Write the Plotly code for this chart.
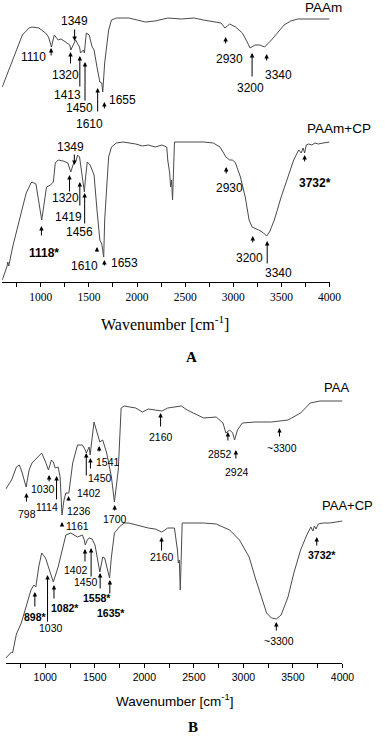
import plotly.graph_objects as go

# ---------------- Panel A data (wavenumber, transmittance a.u.) ----------------
paam_wn = [600, 678, 748, 809, 879, 909, 980, 1050, 1081, 1111, 1141, 1181, 1211, 1252, 1302, 1312,
           1352, 1362, 1403, 1413, 1443, 1453, 1473, 1503, 1534, 1554, 1584, 1604, 1614, 1634, 1644,
           1664, 1705, 1735, 1785, 1916, 2087, 2188, 2319, 2460, 2590, 2691, 2822, 2872, 2913, 2963,
           3023, 3094, 3144, 3174, 3225, 3275, 3325, 3396, 3466, 3527, 3597, 3668, 3829, 4000]
paam_t = [195, 215, 232, 247, 254, 255, 254, 249, 245, 235, 247, 242, 243, 240, 237, 232,
          240, 242, 235, 229, 232, 229, 249, 247, 235, 232, 215, 202, 200, 199, 190,
          219, 252, 262, 264, 264, 260, 261, 264, 263, 264, 262, 260, 259, 254, 258,
          255, 249, 240, 234, 237, 237, 235, 242, 250, 257, 261, 263, 263, 263]

paamcp_wn = [600, 648, 658, 668, 708, 779, 849, 899, 909, 950, 970, 1000, 1010, 1030, 1060, 1101,
             1131, 1151, 1181, 1232, 1282, 1312, 1342, 1362, 1383, 1403, 1423, 1443, 1453, 1463,
             1483, 1513, 1554, 1584, 1604, 1614, 1634, 1654, 1664, 1685, 1705, 1735, 1785, 1856,
             1916, 1987, 2057, 2117, 2188, 2258, 2309, 2319, 2339, 2349, 2359, 2369, 2389, 2460,
             2590, 2691, 2792, 2862, 2893, 2923, 2963, 2993, 3023, 3074, 3124, 3164, 3195, 3225,
             3265, 3315, 3346, 3376, 3426, 3497, 3567, 3627, 3668, 3681, 3705, 3725, 3741, 3758,
             3782, 3816, 3849, 3882, 3933, 4000]
paamcp_t = [2, 15, 20, 16, 35, 62, 89, 99, 100, 98, 85, 65, 62, 75, 95, 97,
            100, 119, 122, 121, 119, 110, 119, 120, 127, 125, 112, 95, 90, 102,
            120, 117, 107, 72, 49, 42, 38, 25, 62, 95, 125, 135, 139, 140,
            139, 138, 136, 137, 135, 137, 135, 122, 109, 95, 102, 82, 140, 140,
            140, 140, 139, 135, 130, 125, 122, 122, 119, 105, 85, 62, 55, 54,
            52, 49, 46, 50, 62, 85, 105, 122, 130, 132, 129, 134, 129, 137,
            138, 137, 139, 138, 139, 140]

# ---------------- Panel B data ----------------
paa_wn = [602, 660, 709, 739, 768, 807, 837, 866, 915, 964, 1003, 1032, 1062, 1081, 1101, 1130,
          1150, 1169, 1189, 1208, 1238, 1277, 1326, 1375, 1404, 1414, 1443, 1453, 1492, 1522,
          1551, 1580, 1590, 1620, 1668, 1698, 1737, 1766, 1796, 1844, 1913, 1981, 2040, 2108,
          2177, 2236, 2304, 2373, 2432, 2500, 2598, 2725, 2794, 2823, 2862, 2892, 2911, 2940,
          2989, 3117, 3283, 3450, 3577, 3675, 3773, 4000]
paa_t = [174, 183, 196, 198, 190, 176, 193, 200, 205, 210, 201, 193, 203, 201, 195, 196,
         186, 148, 163, 170, 170, 200, 218, 218, 213, 210, 216, 208, 241, 230,
         221, 223, 220, 210, 186, 161, 193, 255, 257, 256, 255, 251, 254, 253,
         252, 255, 256, 257, 253, 250, 245, 246, 240, 230, 233, 230, 223, 233,
         240, 241, 241, 243, 250, 260, 262, 262]

paacp_wn = [602, 660, 670, 690, 709, 758, 807, 856, 885, 905, 934, 964, 1003, 1032, 1071, 1081,
            1130, 1179, 1208, 1257, 1326, 1375, 1394, 1404, 1424, 1443, 1473, 1502, 1541, 1551,
            1580, 1600, 1629, 1649, 1668, 1698, 1747, 1796, 1844, 1913, 1981, 2040, 2108, 2177,
            2236, 2304, 2334, 2343, 2353, 2363, 2382, 2500, 2598, 2725, 2862, 2960, 3058, 3117,
            3185, 3234, 3283, 3332, 3381, 3450, 3509, 3577, 3640, 3658, 3681, 3701, 3717, 3733,
            3756, 3805, 3870, 3935, 4000]
paacp_t = [5, 11, 10, 20, 29, 40, 56, 73, 78, 76, 96, 110, 105, 96, 83, 81,
           96, 116, 128, 130, 126, 128, 123, 118, 123, 125, 124, 118, 96, 91,
           106, 105, 93, 85, 106, 130, 136, 140, 140, 138, 136, 135, 134, 131,
           135, 135, 113, 100, 103, 73, 140, 140, 140, 139, 133, 123, 106, 86,
           66, 50, 45, 44, 48, 66, 90, 113, 128, 131, 136, 132, 137, 134,
           139, 140, 140, 141, 142]

# peak labels: text, arrow wavenumber, arrow tip, arrow tail, text x, text y, bold
labels_A = [
    ("1349", 1352, 241, 254, 1352, 261, False),
    ("1110", 1108, 234, 225, 920, 225, False),
    ("1320", 1309, 230, 217, 1252, 207, False),
    ("1413", 1406, 226, 194, 1282, 187, False),
    ("1450", 1460, 220, 180, 1403, 174, False),
    ("1610", 1591, 194, 169, 1503, 158, False),
    ("1655", 1661, 180, 172, 1853, 182, False),
    ("2930", 2920, 245, 237, 2963, 223, False),
    ("3200", 3195, 229, 204, 3174, 194, False),
    ("3340", 3346, 228, 220, 3466, 207, False),
    ("1349", 1349, 117, 129, 1312, 135, False),
    ("1320", 1299, 107, 89, 1252, 84, False),
    ("1419", 1406, 100, 75, 1292, 65, False),
    ("1456", 1456, 89, 57, 1403, 50, False),
    ("1610", 1584, 35, 29, 1453, 16, False),
    ("1653", 1661, 22, 15, 1874, 19, False),
    ("1118*", 1007, 56, 45, 1030, 29, True),
    ("2930", 2926, 115, 107, 2963, 94, False),
    ("3732*", 3741, 127, 119, 3849, 99, True),
    ("3200", 3202, 46, 38, 3164, 24, False),
    ("3340", 3352, 41, 17, 3466, 9, False),
]
labels_B = [
    ("2160", 2164, 250, 235, 2167, 226, False),
    ("798", 810, 170, 160, 817, 149, False),
    ("1030", 1039, 188, 180, 974, 174, False),
    ("1114", 1114, 187, 162, 1013, 156, False),
    ("1161", 1169, 141, 136, 1321, 137, False),
    ("1236", 1235, 167, 161, 1336, 152, False),
    ("1402", 1414, 210, 186, 1443, 170, False),
    ("1450", 1456, 205, 193, 1551, 185, False),
    ("1541", 1544, 217, 210, 1629, 201, False),
    ("1700", 1701, 158, 151, 1708, 144, False),
    ("2852", 2843, 231, 221, 2761, 209, False),
    ("2924", 2924, 213, 203, 2934, 191, False),
    ("~3300", 3364, 235, 225, 3391, 215, False),
    ("2160", 2174, 126, 111, 2177, 106, False),
    ("1402", 1401, 114, 100, 1306, 93, False),
    ("1450", 1463, 115, 85, 1414, 81, False),
    ("1558*", 1554, 90, 73, 1522, 65, True),
    ("1635*", 1652, 83, 68, 1668, 50, True),
    ("898*", 895, 71, 55, 900, 46, True),
    ("1030", 1023, 88, 40, 1062, 35, False),
    ("1082*", 1088, 78, 63, 1198, 55, True),
    ("3732*", 3740, 126, 116, 3792, 108, True),
    ("~3300", 3332, 41, 31, 3362, 22, False),
]

series_labels = [
    ("PAAm", 0.906, "y", 275, 13.5),
    ("PAAm+CP", 0.982, "y", 154, 13.5),
    ("PAA", 0.923, "y2", 276, 13),
    ("PAA+CP", 0.986, "y2", 158, 13),
]

tick_vals = [1000, 1500, 2000, 2500, 3000, 3500, 4000]

W, H = 392, 737
SANS = "Liberation Sans, Arial, sans-serif"
SERIF = "Liberation Serif, Times New Roman, serif"
LINE = "#4a4a4a"

fig = go.Figure()
for wn, t, xa, ya in [(paam_wn, paam_t, "x", "y"), (paamcp_wn, paamcp_t, "x", "y"),
                      (paa_wn, paa_t, "x2", "y2"), (paacp_wn, paacp_t, "x2", "y2")]:
    fig.add_trace(go.Scatter(x=wn, y=t, mode="lines", xaxis=xa, yaxis=ya,
                             line=dict(color=LINE, width=1), showlegend=False,
                             hoverinfo="skip"))

anns = []
def add_labels(labels, xr, yr, size):
    for txt, awn, tip, tail, twn, tv, bold in labels:
        anns.append(dict(x=awn, y=tip, ax=awn, ay=tail, xref=xr, yref=yr, axref=xr, ayref=yr,
                         text="", showarrow=True, arrowhead=2, arrowsize=0.9, arrowwidth=1,
                         arrowcolor="black", standoff=0, startstandoff=0))
        anns.append(dict(x=twn, y=tv, xref=xr, yref=yr, showarrow=False,
                         text=f"<b>{txt}</b>" if bold else txt,
                         font=dict(family=SANS, size=size, color="black"),
                         xanchor="center", yanchor="middle"))

add_labels(labels_A, "x", "y", 12)
add_labels(labels_B, "x2", "y2", 10.5)

for txt, px, yr, v, size in series_labels:
    anns.append(dict(x=px, y=v, xref="paper", yref=yr, showarrow=False, text=txt,
                     font=dict(family=SANS, size=size, color="black"),
                     xanchor="right", yanchor="middle"))

# axis titles and panel letters
anns.append(dict(x=170 / W, y=1 - 323 / H, xref="paper", yref="paper", showarrow=False,
                 text="Wavenumber [cm<sup>-1</sup>]", font=dict(family=SERIF, size=16, color="black"),
                 xanchor="center", yanchor="middle"))
anns.append(dict(x=198 / W, y=1 - 357 / H, xref="paper", yref="paper", showarrow=False,
                 text="<b>A</b>", font=dict(family=SERIF, size=15, color="black"),
                 xanchor="center", yanchor="middle"))
anns.append(dict(x=180 / W, y=1 - 700 / H, xref="paper", yref="paper", showarrow=False,
                 text="Wavenumber [cm<sup>-1</sup>]", font=dict(family=SANS, size=13.5, color="black"),
                 xanchor="center", yanchor="middle"))
anns.append(dict(x=199 / W, y=1 - 727 / H, xref="paper", yref="paper", showarrow=False,
                 text="<b>B</b>", font=dict(family=SERIF, size=15, color="black"),
                 xanchor="center", yanchor="middle"))

def xaxis_cfg(domain, font, anchor):
    return dict(domain=domain, range=[600, 4000], anchor=anchor, showline=True,
                linecolor="black", linewidth=1,
                ticks="outside", ticklen=4, tickwidth=1, tickcolor="black",
                tickvals=tick_vals, tickfont=font, showgrid=False, zeroline=False,
                minor=dict(ticks="outside", ticklen=4, tickwidth=1, tickcolor="black",
                           tick0=750, dtick=500, showgrid=False),
                fixedrange=True)

fig.update_layout(
    width=W, height=H, margin=dict(l=0, r=0, t=0, b=0),
    paper_bgcolor="white", plot_bgcolor="white",
    xaxis=xaxis_cfg([2.3 / W, 340 / W], dict(family=SERIF, size=11.5, color="black"), "y"),
    yaxis=dict(domain=[1 - 282 / H, 1], range=[0, 282], anchor="x", visible=False, fixedrange=True),
    xaxis2=xaxis_cfg([5.8 / W, 353.3 / W], dict(family=SANS, size=10.5, color="black"), "y2"),
    yaxis2=dict(domain=[1 - 663 / H, 1 - 370 / H], range=[0, 293], anchor="x2", visible=False,
                fixedrange=True),
    annotations=anns,
    showlegend=False,
)

fig.write_html("out.html", config={"displayModeBar": False},
               post_script="document.body.style.margin='0';document.body.style.padding='0';")
